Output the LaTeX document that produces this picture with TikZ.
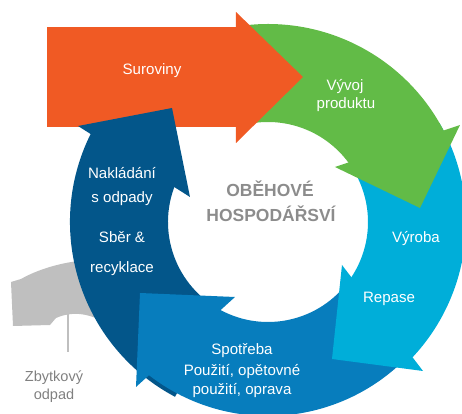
\documentclass[tikz,border=0pt]{standalone}
\usepackage{fontspec}
\setmainfont{Liberation Sans}
\usetikzlibrary{calc}
\definecolor{corange}{HTML}{F05A24}
\definecolor{cgreen}{HTML}{62BB47}
\definecolor{ccyan}{HTML}{00AED9}
\definecolor{cmed}{HTML}{077DBD}
\definecolor{cdark}{HTML}{03568A}
\definecolor{cgray}{HTML}{BFBFBF}
\definecolor{ctitle}{HTML}{8C8C8C}
\definecolor{cwaste}{HTML}{808080}
\begin{document}
\begin{tikzpicture}[x=0.75pt,y=-0.75pt,
  lbl/.style={text=white,font=\fontsize{11.3}{13}\selectfont,inner sep=0pt,anchor=base},
  ttl/.style={text=ctitle,font=\bfseries\fontsize{13.1}{15}\selectfont,inner sep=0pt,anchor=base},
  wst/.style={text=cwaste,font=\fontsize{10.9}{13}\selectfont,inner sep=0pt,anchor=base}]
\useasboundingbox (0,0) rectangle (462,414);
\clip (0,0) rectangle (462,414);
\coordinate (C) at (268,222);
% grey residual arrow
\fill[cgray] (112,260) -- (78,261) .. controls (55,264) and (35,271) .. (21,279)
  -- (11,282) -- (13,326) -- (50,325) -- (56,318)
  .. controls (72,311) and (92,312) .. (112,328) -- cycle;
% shafts
\fill[cdark] ($(C)+(118:198)$) arc[start angle=118,end angle=208,radius=198]
  -- ($(C)+(202:100)$) arc[start angle=202,end angle=118,radius=100] -- cycle;
\fill[cmed] ($(C)+(38:194)$) arc[start angle=38,end angle=129.5,radius=194]
  -- ($(C)+(121:100)$) arc[start angle=121,end angle=38,radius=100] -- cycle;
\fill[ccyan] ($(C)+(-30:198)$) arc[start angle=-30,end angle=44.5,radius=198]
  -- ($(C)+(36:100)$) arc[start angle=36,end angle=-30,radius=100] -- cycle;
\fill[cgreen] ($(C)+(-98:198)$) arc[start angle=-98,end angle=-26,radius=198]
  -- ($(C)+(-34:100)$) arc[start angle=-34,end angle=-98,radius=100] -- cycle;
\fill[corange] (47,27) rectangle (236.5,127);
% heads
\fill[cdark] (78,126) -- (172,108) -- (190,197) -- cycle;
\fill[cmed] (140,293) -- (235,297) -- (136,387) -- cycle;
\fill[ccyan] (342,265) -- (423,371) -- (332,359) -- cycle;
\fill[cgreen] (335,167) -- (460,125) -- (420,208) -- cycle;
\fill[corange] (236,12) -- (303,77) -- (236,143) -- cycle;
% labels
\node[lbl] (sur) at (152,74.5) {Suroviny};
\node[lbl] (vy1) at (345,90.5) {Vývoj};
\node[lbl] (vy2) at (346,108.5) {produktu};
\node[lbl] (vyr) at (416,242.5) {Výroba};
\node[lbl] (rep) at (389,302.5) {Repase};
\node[lbl] (sp1) at (242,354.5) {Spotřeba};
\node[lbl] (sp2) at (242,375.5) {Použití, opětovné};
\node[lbl] (sp3) at (242,394.5) {použití, oprava};
\node[lbl] (na1) at (122,178.5) {Nakládání};
\node[lbl] (na2) at (122,202.5) {s odpady};
\node[lbl] (sb1) at (122,242.5) {Sběr \&};
\node[lbl] (sb2) at (122,272.5) {recyklace};
\node[ttl] (t1) at (270,196.5) {OBĚHOVÉ};
\node[ttl] (t2) at (271,221.5) {HOSPODÁŘSVÍ};
\node[wst] (w1) at (54,382) {Zbytkový};
\node[wst] (w2) at (54,400) {odpad};
\coordinate (wtop) at (68,293);
\coordinate (wbot) at (68,352);
\draw[cgray,line width=0.8pt] (wtop) -- (wbot);
\end{tikzpicture}
\end{document}
